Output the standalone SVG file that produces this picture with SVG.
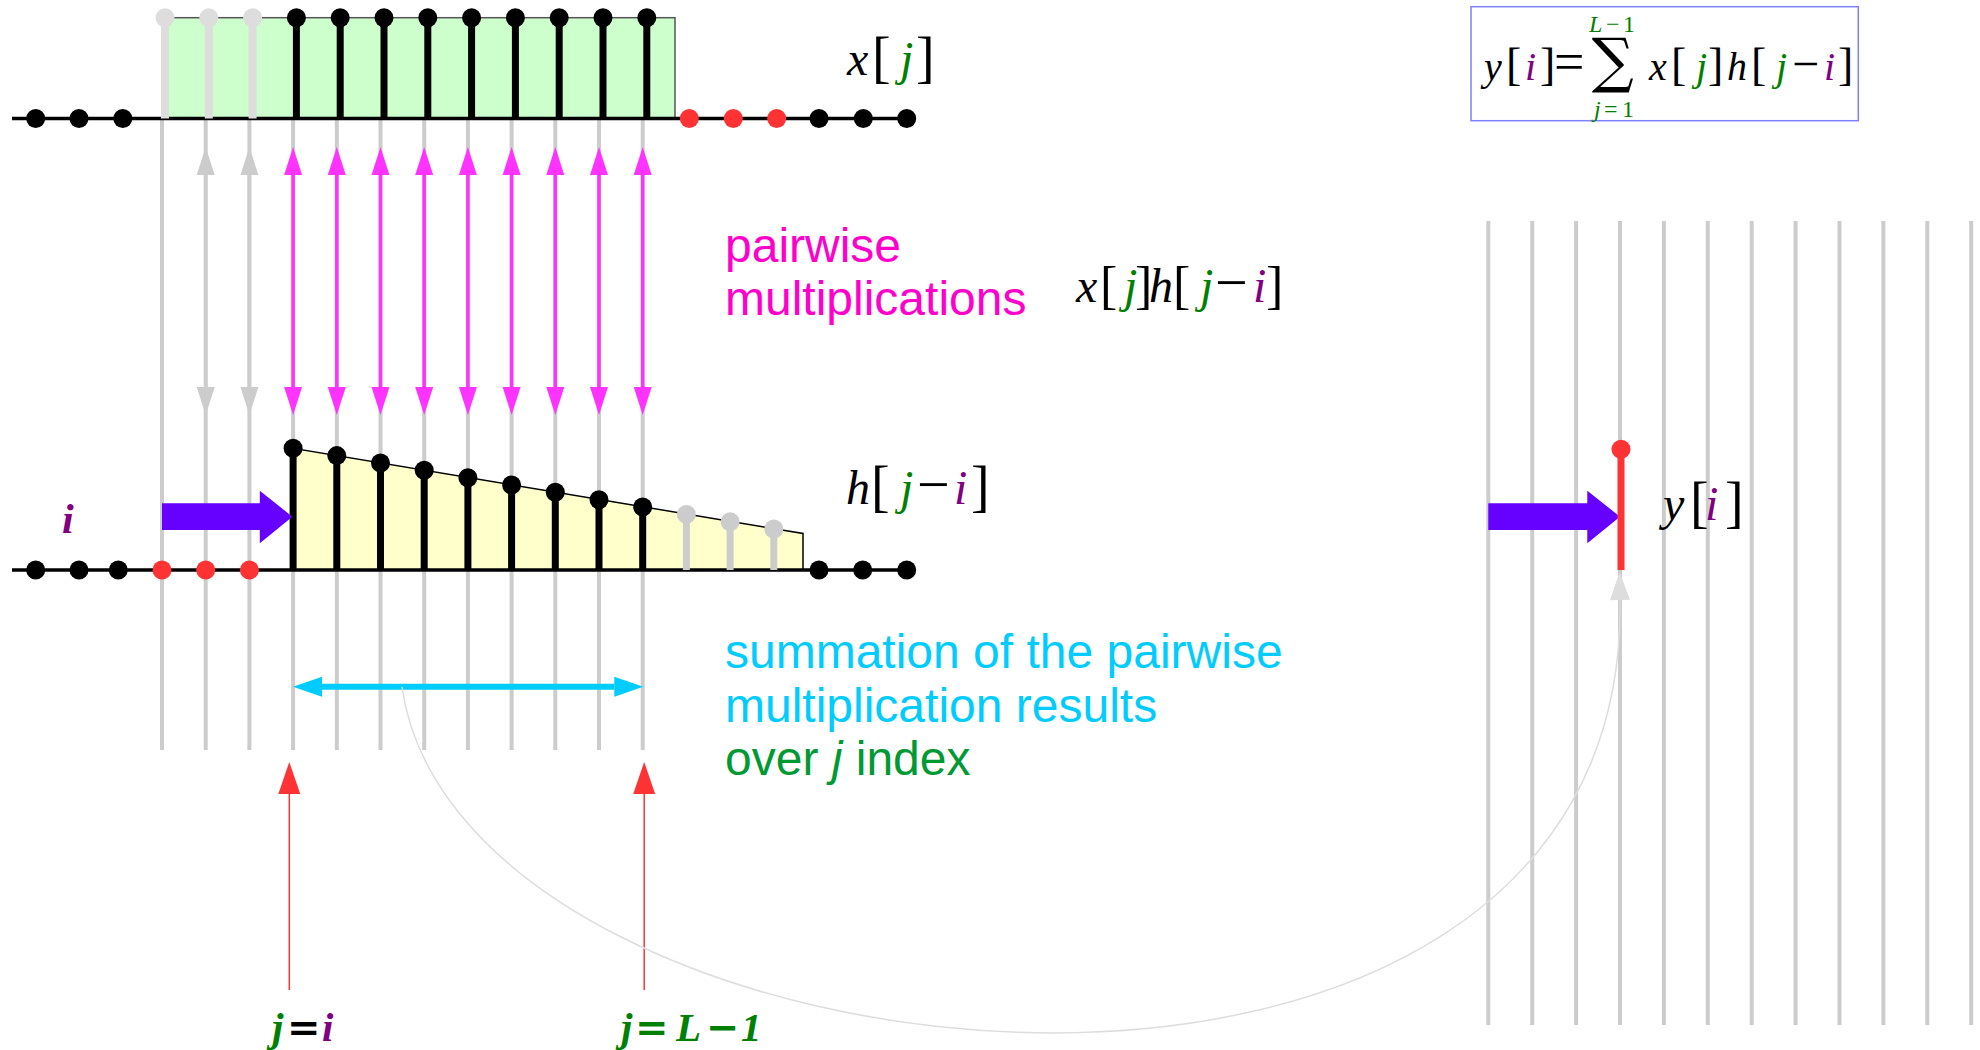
<svg xmlns="http://www.w3.org/2000/svg" width="1980" height="1050" viewBox="0 0 1980 1050">
<style>
.grid{stroke:#cccccc;stroke-width:4;fill:none}
.axis{stroke:#000;stroke-width:3.5;fill:none}
.stemk{stroke:#000;stroke-width:7}
.stemg{stroke:#dddddd;stroke-width:8}
.stemgb{stroke:#cccccc;stroke-width:7}
.dk{fill:#000}
.dr{fill:#ff3333}
.dg{fill:#dddddd}
.dgb{fill:#cccccc}
.mag{stroke:#ff33ff;stroke-width:3.5;marker-start:url(#hm);marker-end:url(#hm)}
.gra{stroke:#cccccc;stroke-width:3.5;marker-start:url(#hg);marker-end:url(#hg)}
.sans{font-family:"Liberation Sans",Arial,sans-serif;font-size:48px}
.m{font-family:"Liberation Serif","Times New Roman",serif;font-style:italic;font-size:48px}
.mb{font-family:"Liberation Serif","Times New Roman",serif;font-style:italic;font-weight:bold;font-size:41px}
.br{font-family:"Liberation Serif","Times New Roman",serif;font-style:normal;font-size:56px}
.op{font-family:"Liberation Serif","Times New Roman",serif;font-style:normal;font-size:58px}
.opb{font-family:"DejaVu Serif",serif;font-style:normal;font-weight:bold;font-size:40px}
.sm{font-family:"Liberation Serif","Times New Roman",serif;font-size:24px;fill:#008000}
.g{fill:#008000}
.p{fill:#800080}
.k{fill:#000}
</style>
<defs>
<marker id="hm" markerUnits="userSpaceOnUse" markerWidth="28" markerHeight="18" refX="0" refY="9" orient="auto-start-reverse" overflow="visible"><path d="M0,0 L28,9 L0,18 Z" fill="#ff33ff"/></marker>
<marker id="hg" markerUnits="userSpaceOnUse" markerWidth="28" markerHeight="18" refX="0" refY="9" orient="auto-start-reverse" overflow="visible"><path d="M0,0 L28,9 L0,18 Z" fill="#cccccc"/></marker>
<marker id="hc" markerUnits="userSpaceOnUse" markerWidth="29" markerHeight="20" refX="0" refY="10" orient="auto-start-reverse" overflow="visible"><path d="M0,0 L29,10 L0,20 Z" fill="#00ccff"/></marker>
<marker id="hr" markerUnits="userSpaceOnUse" markerWidth="32" markerHeight="22" refX="0" refY="11" orient="auto" overflow="visible"><path d="M0,0 L32,11 L0,22 Z" fill="#ff3333"/></marker>
<marker id="hgc" markerUnits="userSpaceOnUse" markerWidth="28" markerHeight="20" refX="0" refY="10" orient="auto" overflow="visible"><path d="M0,0 L28,10 L0,20 Z" fill="#dddddd"/></marker>
</defs>
<rect width="1980" height="1050" fill="#fff"/>

<g id="grid-left">
<path class="grid" d="M162,118V750M205.7,118V750M249.4,118V750M293.1,118V750M336.8,118V750M380.5,118V750M424.2,118V750M467.9,118V750M511.6,118V750M555.3,118V750M599,118V750M642.7,118V750"/>
</g>
<g id="grid-right">
<path class="grid" d="M1488.3,221V1025M1532.2,221V1025M1576.1,221V1025M1620,221V1025M1663.9,221V1025M1707.8,221V1025M1751.7,221V1025M1795.6,221V1025M1839.5,221V1025M1883.4,221V1025M1927.3,221V1025M1971.2,221V1025"/>
</g>

<g id="x-signal">
<rect x="165" y="17.7" width="510" height="101" fill="#ccffcc" stroke="#555" stroke-width="1.5"/>
<line class="axis" x1="12" y1="118.5" x2="907" y2="118.5"/>
<path class="stemg" d="M165,17.7V118.5M208.8,17.7V118.5M252.6,17.7V118.5"/>
<path class="stemk" d="M296.4,17.7V118.5M340.2,17.7V118.5M384,17.7V118.5M427.8,17.7V118.5M471.6,17.7V118.5M515.4,17.7V118.5M559.2,17.7V118.5M603,17.7V118.5M646.8,17.7V118.5"/>
<g class="dg"><circle cx="165" cy="17.7" r="9.5"/><circle cx="208.8" cy="17.7" r="9.5"/><circle cx="252.6" cy="17.7" r="9.5"/></g>
<g class="dk"><circle cx="296.4" cy="17.7" r="9.5"/><circle cx="340.2" cy="17.7" r="9.5"/><circle cx="384" cy="17.7" r="9.5"/><circle cx="427.8" cy="17.7" r="9.5"/><circle cx="471.6" cy="17.7" r="9.5"/><circle cx="515.4" cy="17.7" r="9.5"/><circle cx="559.2" cy="17.7" r="9.5"/><circle cx="603" cy="17.7" r="9.5"/><circle cx="646.8" cy="17.7" r="9.5"/>
<circle cx="35.7" cy="118.5" r="9.5"/><circle cx="79" cy="118.5" r="9.5"/><circle cx="122.8" cy="118.5" r="9.5"/>
<circle cx="819" cy="118.5" r="9.5"/><circle cx="863.3" cy="118.5" r="9.5"/><circle cx="906.7" cy="118.5" r="9.5"/></g>
<g class="dr"><circle cx="689.3" cy="118.5" r="9.5"/><circle cx="733.3" cy="118.5" r="9.5"/><circle cx="776.7" cy="118.5" r="9.5"/></g>
<text y="75"><tspan class="m k" x="847">x</tspan><tspan class="br k" x="872" y="76">[</tspan><tspan class="m g" x="900" y="75">j</tspan><tspan class="br k" x="916" y="76">]</tspan></text>
</g>

<g id="h-signal">
<polygon points="293.1,570 293.1,448.3 803,533.5 803,570" fill="#ffffcc" stroke="#000" stroke-width="1.5"/>
<line class="axis" x1="12" y1="570" x2="907" y2="570"/>
<path class="stemk" d="M293.1,448.3V570M336.8,455.6V570M380.5,463V570M424.2,470.3V570M467.9,477.7V570M511.6,485V570M555.3,492.3V570M599,499.7V570M642.7,507V570"/>
<path class="stemgb" d="M686.4,514.4V570M730.1,521.7V570M773.8,529V570"/>
<g class="dk"><circle cx="293.1" cy="448.3" r="9.5"/><circle cx="336.8" cy="455.6" r="9.5"/><circle cx="380.5" cy="463" r="9.5"/><circle cx="424.2" cy="470.3" r="9.5"/><circle cx="467.9" cy="477.7" r="9.5"/><circle cx="511.6" cy="485" r="9.5"/><circle cx="555.3" cy="492.3" r="9.5"/><circle cx="599" cy="499.7" r="9.5"/><circle cx="642.7" cy="507" r="9.5"/>
<circle cx="35.7" cy="570" r="9.5"/><circle cx="79" cy="570" r="9.5"/><circle cx="118.3" cy="570" r="9.5"/>
<circle cx="819" cy="570" r="9.5"/><circle cx="862.7" cy="570" r="9.5"/><circle cx="906.7" cy="570" r="9.5"/></g>
<g class="dgb"><circle cx="686.4" cy="514.4" r="9.5"/><circle cx="730.1" cy="521.7" r="9.5"/><circle cx="773.8" cy="529" r="9.5"/></g>
<g class="dr"><circle cx="162" cy="570" r="9.5"/><circle cx="205.7" cy="570" r="9.5"/><circle cx="249.4" cy="570" r="9.5"/></g>
<text y="504"><tspan class="m k" x="846">h</tspan><tspan class="br k" x="871" y="505">[</tspan><tspan class="m g" x="900" y="504">j</tspan><tspan class="op k" x="917">−</tspan><tspan class="m p" x="954">i</tspan><tspan class="br k" x="971" y="505">]</tspan></text>
</g>

<g id="shift-i">
<polygon points="162,503.3 259.8,503.3 259.8,490.7 292.4,516.7 259.8,543.3 259.8,530 162,530" fill="#6600ff"/>
<text class="mb p" x="62" y="533" style="font-size:42px">i</text>
</g>

<g id="y-output">
<polygon points="1488.3,503.3 1587.3,503.3 1587.3,490.7 1620,516.7 1587.3,543.3 1587.3,530 1488.3,530" fill="#6600ff"/>
<line x1="1621" y1="449.3" x2="1621" y2="570" stroke="#ff3333" stroke-width="7"/>
<circle cx="1621" cy="449.3" r="9.5" fill="#ff3333"/>
<text y="520"><tspan class="m k" x="1663">y</tspan><tspan class="br k" x="1690" y="521">[</tspan><tspan class="m p" x="1705" y="520">i</tspan><tspan class="br k" x="1725" y="521">]</tspan></text>
</g>

<g id="formula">
<rect x="1471" y="6.7" width="387.3" height="114" fill="none" stroke="#8080ff" stroke-width="1.5"/>
<text y="80"><tspan class="m k" x="1484" style="font-size:40px">y</tspan><tspan class="br k" x="1506" style="font-size:46px">[</tspan><tspan class="m p" x="1525" style="font-size:40px">i</tspan><tspan class="br k" x="1540" style="font-size:46px">]</tspan><tspan class="op k" x="1554" style="font-size:54px">=</tspan></text>
<text x="1591.7" y="81" font-family="DejaVu Serif, serif" font-size="60" textLength="42" lengthAdjust="spacingAndGlyphs" fill="#000">∑</text>
<text class="sm" y="31.7"><tspan x="1589" font-style="italic">L</tspan><tspan x="1606">−</tspan><tspan x="1623">1</tspan></text>
<text class="sm" y="116.7"><tspan x="1594" font-style="italic">j</tspan><tspan x="1604">=</tspan><tspan x="1622">1</tspan></text>
<text y="80"><tspan class="m k" x="1649" style="font-size:40px">x</tspan><tspan class="br k" x="1671" style="font-size:46px">[</tspan><tspan class="m g" x="1696" style="font-size:40px">j</tspan><tspan class="br k" x="1708" style="font-size:46px">]</tspan><tspan class="m k" x="1727" style="font-size:40px">h</tspan><tspan class="br k" x="1751" style="font-size:46px">[</tspan><tspan class="m g" x="1776" style="font-size:40px">j</tspan><tspan class="op k" x="1792" style="font-size:48px">−</tspan><tspan class="m p" x="1824" style="font-size:40px">i</tspan><tspan class="br k" x="1838" style="font-size:46px">]</tspan></text>
</g>

<g id="label-pairwise">
<text class="sans" x="725" y="261.7" fill="#ff00cc">pairwise</text>
<text class="sans" x="725" y="315" fill="#ff00cc">multiplications</text>
<text y="302"><tspan class="m k" x="1076">x</tspan><tspan class="br k" x="1100" y="303" style="font-size:52px">[</tspan><tspan class="m g" x="1124" y="302">j</tspan><tspan class="br k" x="1135" y="303" style="font-size:52px">]</tspan><tspan class="m k" x="1149" y="302">h</tspan><tspan class="br k" x="1173" y="303" style="font-size:52px">[</tspan><tspan class="m g" x="1200" y="302">j</tspan><tspan class="op k" x="1215">−</tspan><tspan class="m p" x="1253">i</tspan><tspan class="br k" x="1266" y="303" style="font-size:52px">]</tspan></text>
</g>

<g id="label-summation">
<text class="sans" x="725" y="668.3" fill="#00ccff">summation of the pairwise</text>
<text class="sans" x="725" y="721.7" fill="#00ccff">multiplication results</text>
<text class="sans" x="725" y="775" fill="#009933">over <tspan font-style="italic">j</tspan> index</text>
</g>

<g id="label-j-i">
<text y="1041"><tspan class="mb g" x="272">j</tspan><tspan class="opb k" x="287">=</tspan><tspan class="mb p" x="322">i</tspan></text>
</g>
<g id="label-j-L1">
<text y="1041"><tspan class="mb g" x="621">j</tspan><tspan class="opb g" x="635">=</tspan><tspan class="mb g" x="676">L</tspan><tspan class="opb g" x="706">−</tspan><tspan class="mb g" x="741">1</tspan></text>
</g>

<g id="connectors">
<line class="gra" x1="205.7" y1="175" x2="205.7" y2="387"/>
<line class="gra" x1="249.4" y1="175" x2="249.4" y2="387"/>
<line class="mag" x1="293.1" y1="175" x2="293.1" y2="387"/>
<line class="mag" x1="336.8" y1="175" x2="336.8" y2="387"/>
<line class="mag" x1="380.5" y1="175" x2="380.5" y2="387"/>
<line class="mag" x1="424.2" y1="175" x2="424.2" y2="387"/>
<line class="mag" x1="467.9" y1="175" x2="467.9" y2="387"/>
<line class="mag" x1="511.6" y1="175" x2="511.6" y2="387"/>
<line class="mag" x1="555.3" y1="175" x2="555.3" y2="387"/>
<line class="mag" x1="599" y1="175" x2="599" y2="387"/>
<line class="mag" x1="642.7" y1="175" x2="642.7" y2="387"/>
<line x1="322" y1="686.7" x2="614.3" y2="686.7" stroke="#00ccff" stroke-width="6" marker-start="url(#hc)" marker-end="url(#hc)"/>
<line x1="289.3" y1="990" x2="289.3" y2="794" stroke="#ff3333" stroke-width="1.5" marker-end="url(#hr)"/>
<line x1="644.2" y1="990" x2="644.2" y2="794" stroke="#ff3333" stroke-width="1.5" marker-end="url(#hr)"/>
<path d="M402,687 C460,1100 1630,1225 1620,600" fill="none" stroke="#dddddd" stroke-width="1.5" marker-end="url(#hgc)"/>
</g>
</svg>
